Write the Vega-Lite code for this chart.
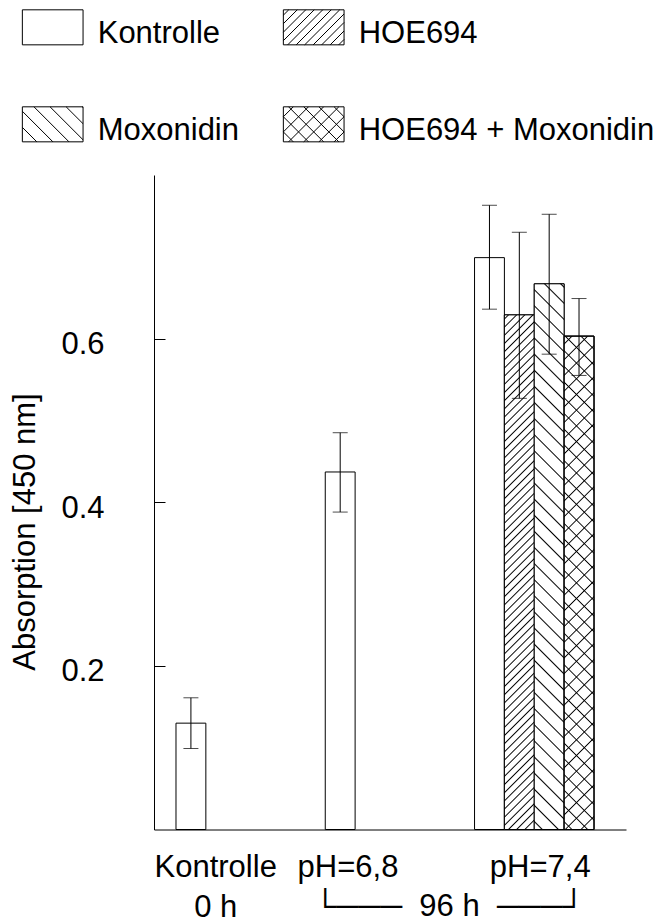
{
  "$schema": "https://vega.github.io/schema/vega-lite/v6.json",
  "width": 472,
  "height": 654.5,
  "autosize": {"type": "none"},
  "padding": {"left": 154, "top": 175, "right": 46, "bottom": 93.5},
  "background": "white",
  "config": {
    "font": "Liberation Sans",
    "view": {"stroke": null},
    "axis": {
      "domainColor": "black",
      "tickColor": "black",
      "labelColor": "black",
      "titleColor": "black",
      "labelFontSize": 31,
      "titleFontSize": 31,
      "titleFontWeight": "normal",
      "grid": false
    }
  },
  "data": {
    "values": [
      {"cond": "Kontrolle 0 h", "treatment": "Kontrolle", "value": 0.130, "lo": 0.099, "hi": 0.161},
      {"cond": "pH=6,8", "treatment": "Kontrolle", "value": 0.437, "lo": 0.388, "hi": 0.485},
      {"cond": "pH=7,4", "treatment": "Kontrolle", "value": 0.699, "lo": 0.636, "hi": 0.763},
      {"cond": "pH=7,4", "treatment": "HOE694", "value": 0.629, "lo": 0.527, "hi": 0.730},
      {"cond": "pH=7,4", "treatment": "Moxonidin", "value": 0.667, "lo": 0.581, "hi": 0.752},
      {"cond": "pH=7,4", "treatment": "HOE694 + Moxonidin", "value": 0.603, "lo": 0.555, "hi": 0.649}
    ]
  },
  "encoding": {
    "x": {
      "field": "cond",
      "type": "nominal",
      "sort": null,
      "scale": {"domain": ["Kontrolle 0 h", "pH=6,8", "pH=7,4"], "paddingInner": 0.2, "paddingOuter": 0.181, "align": 0.407},
      "axis": {
        "title": "\u2514\u2500\u2500\u2500\u00a0\u00a096 h\u00a0\u00a0\u2500\u2500\u2500\u2518",
        "ticks": false,
        "labelAngle": 0,
        "labelPadding": 23,
        "labelLineHeight": 40,
        "labelLimit": 0,
        "labelExpr": "datum.value === 'Kontrolle 0 h' ? ['Kontrolle', '0 h'] : datum.value",
        "labelOffset": {"condition": [{"test": "datum.value === 'Kontrolle 0 h'", "value": -20}, {"test": "datum.value === 'pH=6,8'", "value": -37}], "value": 6},
        "titleX": 295,
        "titleY": 86,
        "titleBaseline": "alphabetic",
        "titleAlign": "center"
      }
    },
    "xOffset": {
      "field": "treatment",
      "type": "nominal",
      "scale": {"domain": ["Kontrolle", "HOE694", "Moxonidin", "HOE694 + Moxonidin"], "paddingInner": 0, "paddingOuter": 0}
    }
  },
  "layer": [
    {
      "mark": {"type": "bar", "fill": "white", "stroke": "black", "strokeWidth": 1},
      "encoding": {
        "y": {
          "field": "value",
          "type": "quantitative",
          "title": "Absorption [450 nm]",
          "scale": {"domain": [0, 0.8], "nice": false},
          "axis": {
            "values": [0.2, 0.4, 0.6],
            "format": ".1f",
            "ticks": false,
            "grid": true,
            "gridColor": "black",
            "gridWidth": 1,
            "gridOpacity": 1,
            "gridDash": [11, 2000],
            "labelPadding": 50,
            "labelOffset": 6,
            "titleX": -120,
            "titleY": 356.5,
            "titleAngle": 270,
            "titleBaseline": "alphabetic",
            "titleAlign": "center"
          }
        }
      }
    },
    {
      "transform": [{"filter": "datum.treatment === 'HOE694'"}],
      "mark": {
        "type": "bar", "stroke": "black", "strokeWidth": 1,
        "fill": {"gradient": "linear", "x1": 0, "y1": 0, "x2": 0.0612, "y2": 1.0546, "stops": [
          {"offset":0.005,"color":"#fff"},{"offset":0.0075,"color":"#000"},{"offset":0.01,"color":"#fff"},
          {"offset":0.02,"color":"#fff"},{"offset":0.0225,"color":"#000"},{"offset":0.025,"color":"#fff"},
          {"offset":0.035,"color":"#fff"},{"offset":0.0375,"color":"#000"},{"offset":0.04,"color":"#fff"},
          {"offset":0.05,"color":"#fff"},{"offset":0.0525,"color":"#000"},{"offset":0.055,"color":"#fff"},
          {"offset":0.065,"color":"#fff"},{"offset":0.0675,"color":"#000"},{"offset":0.07,"color":"#fff"},
          {"offset":0.08,"color":"#fff"},{"offset":0.0825,"color":"#000"},{"offset":0.085,"color":"#fff"},
          {"offset":0.095,"color":"#fff"},{"offset":0.0975,"color":"#000"},{"offset":0.1,"color":"#fff"},
          {"offset":0.11,"color":"#fff"},{"offset":0.1125,"color":"#000"},{"offset":0.115,"color":"#fff"},
          {"offset":0.125,"color":"#fff"},{"offset":0.1275,"color":"#000"},{"offset":0.13,"color":"#fff"},
          {"offset":0.14,"color":"#fff"},{"offset":0.1425,"color":"#000"},{"offset":0.145,"color":"#fff"},
          {"offset":0.155,"color":"#fff"},{"offset":0.1575,"color":"#000"},{"offset":0.16,"color":"#fff"},
          {"offset":0.17,"color":"#fff"},{"offset":0.1725,"color":"#000"},{"offset":0.175,"color":"#fff"},
          {"offset":0.185,"color":"#fff"},{"offset":0.1875,"color":"#000"},{"offset":0.19,"color":"#fff"},
          {"offset":0.2,"color":"#fff"},{"offset":0.2025,"color":"#000"},{"offset":0.205,"color":"#fff"},
          {"offset":0.215,"color":"#fff"},{"offset":0.2175,"color":"#000"},{"offset":0.22,"color":"#fff"},
          {"offset":0.23,"color":"#fff"},{"offset":0.2325,"color":"#000"},{"offset":0.235,"color":"#fff"},
          {"offset":0.245,"color":"#fff"},{"offset":0.2475,"color":"#000"},{"offset":0.25,"color":"#fff"},
          {"offset":0.26,"color":"#fff"},{"offset":0.2625,"color":"#000"},{"offset":0.265,"color":"#fff"},
          {"offset":0.275,"color":"#fff"},{"offset":0.2775,"color":"#000"},{"offset":0.28,"color":"#fff"},
          {"offset":0.29,"color":"#fff"},{"offset":0.2925,"color":"#000"},{"offset":0.295,"color":"#fff"},
          {"offset":0.305,"color":"#fff"},{"offset":0.3075,"color":"#000"},{"offset":0.31,"color":"#fff"},
          {"offset":0.32,"color":"#fff"},{"offset":0.3225,"color":"#000"},{"offset":0.325,"color":"#fff"},
          {"offset":0.335,"color":"#fff"},{"offset":0.3375,"color":"#000"},{"offset":0.34,"color":"#fff"},
          {"offset":0.35,"color":"#fff"},{"offset":0.3525,"color":"#000"},{"offset":0.355,"color":"#fff"},
          {"offset":0.365,"color":"#fff"},{"offset":0.3675,"color":"#000"},{"offset":0.37,"color":"#fff"},
          {"offset":0.38,"color":"#fff"},{"offset":0.3825,"color":"#000"},{"offset":0.385,"color":"#fff"},
          {"offset":0.395,"color":"#fff"},{"offset":0.3975,"color":"#000"},{"offset":0.4,"color":"#fff"},
          {"offset":0.41,"color":"#fff"},{"offset":0.4125,"color":"#000"},{"offset":0.415,"color":"#fff"},
          {"offset":0.425,"color":"#fff"},{"offset":0.4275,"color":"#000"},{"offset":0.43,"color":"#fff"},
          {"offset":0.44,"color":"#fff"},{"offset":0.4425,"color":"#000"},{"offset":0.445,"color":"#fff"},
          {"offset":0.455,"color":"#fff"},{"offset":0.4575,"color":"#000"},{"offset":0.46,"color":"#fff"},
          {"offset":0.47,"color":"#fff"},{"offset":0.4725,"color":"#000"},{"offset":0.475,"color":"#fff"},
          {"offset":0.485,"color":"#fff"},{"offset":0.4875,"color":"#000"},{"offset":0.49,"color":"#fff"},
          {"offset":0.5,"color":"#fff"},{"offset":0.5025,"color":"#000"},{"offset":0.505,"color":"#fff"},
          {"offset":0.515,"color":"#fff"},{"offset":0.5175,"color":"#000"},{"offset":0.52,"color":"#fff"},
          {"offset":0.53,"color":"#fff"},{"offset":0.5325,"color":"#000"},{"offset":0.535,"color":"#fff"},
          {"offset":0.545,"color":"#fff"},{"offset":0.5475,"color":"#000"},{"offset":0.55,"color":"#fff"},
          {"offset":0.56,"color":"#fff"},{"offset":0.5625,"color":"#000"},{"offset":0.565,"color":"#fff"},
          {"offset":0.575,"color":"#fff"},{"offset":0.5775,"color":"#000"},{"offset":0.58,"color":"#fff"},
          {"offset":0.59,"color":"#fff"},{"offset":0.5925,"color":"#000"},{"offset":0.595,"color":"#fff"},
          {"offset":0.605,"color":"#fff"},{"offset":0.6075,"color":"#000"},{"offset":0.61,"color":"#fff"},
          {"offset":0.62,"color":"#fff"},{"offset":0.6225,"color":"#000"},{"offset":0.625,"color":"#fff"},
          {"offset":0.635,"color":"#fff"},{"offset":0.6375,"color":"#000"},{"offset":0.64,"color":"#fff"},
          {"offset":0.65,"color":"#fff"},{"offset":0.6525,"color":"#000"},{"offset":0.655,"color":"#fff"},
          {"offset":0.665,"color":"#fff"},{"offset":0.6675,"color":"#000"},{"offset":0.67,"color":"#fff"},
          {"offset":0.68,"color":"#fff"},{"offset":0.6825,"color":"#000"},{"offset":0.685,"color":"#fff"},
          {"offset":0.695,"color":"#fff"},{"offset":0.6975,"color":"#000"},{"offset":0.7,"color":"#fff"},
          {"offset":0.71,"color":"#fff"},{"offset":0.7125,"color":"#000"},{"offset":0.715,"color":"#fff"},
          {"offset":0.725,"color":"#fff"},{"offset":0.7275,"color":"#000"},{"offset":0.73,"color":"#fff"},
          {"offset":0.74,"color":"#fff"},{"offset":0.7425,"color":"#000"},{"offset":0.745,"color":"#fff"},
          {"offset":0.755,"color":"#fff"},{"offset":0.7575,"color":"#000"},{"offset":0.76,"color":"#fff"},
          {"offset":0.77,"color":"#fff"},{"offset":0.7725,"color":"#000"},{"offset":0.775,"color":"#fff"},
          {"offset":0.785,"color":"#fff"},{"offset":0.7875,"color":"#000"},{"offset":0.79,"color":"#fff"},
          {"offset":0.8,"color":"#fff"},{"offset":0.8025,"color":"#000"},{"offset":0.805,"color":"#fff"},
          {"offset":0.815,"color":"#fff"},{"offset":0.8175,"color":"#000"},{"offset":0.82,"color":"#fff"},
          {"offset":0.83,"color":"#fff"},{"offset":0.8325,"color":"#000"},{"offset":0.835,"color":"#fff"},
          {"offset":0.845,"color":"#fff"},{"offset":0.8475,"color":"#000"},{"offset":0.85,"color":"#fff"},
          {"offset":0.86,"color":"#fff"},{"offset":0.8625,"color":"#000"},{"offset":0.865,"color":"#fff"},
          {"offset":0.875,"color":"#fff"},{"offset":0.8775,"color":"#000"},{"offset":0.88,"color":"#fff"},
          {"offset":0.89,"color":"#fff"},{"offset":0.8925,"color":"#000"},{"offset":0.895,"color":"#fff"},
          {"offset":0.905,"color":"#fff"},{"offset":0.9075,"color":"#000"},{"offset":0.91,"color":"#fff"},
          {"offset":0.92,"color":"#fff"},{"offset":0.9225,"color":"#000"},{"offset":0.925,"color":"#fff"},
          {"offset":0.935,"color":"#fff"},{"offset":0.9375,"color":"#000"},{"offset":0.94,"color":"#fff"},
          {"offset":0.95,"color":"#fff"},{"offset":0.9525,"color":"#000"},{"offset":0.955,"color":"#fff"},
          {"offset":0.965,"color":"#fff"},{"offset":0.9675,"color":"#000"},{"offset":0.97,"color":"#fff"},
          {"offset":0.98,"color":"#fff"},{"offset":0.9825,"color":"#000"},{"offset":0.985,"color":"#fff"}
        ]}
      },
      "encoding": {"y": {"field": "value", "type": "quantitative", "title": "Absorption [450 nm]"}}
    },
    {
      "transform": [{"filter": "datum.treatment === 'Moxonidin'"}],
      "mark": {
        "type": "bar", "stroke": "black", "strokeWidth": 1,
        "fill": {"gradient": "linear", "x1": 0, "y1": 1, "x2": 0.0575, "y2": -0.0516, "stops": [
          {"offset":0.0115,"color":"#fff"},{"offset":0.014,"color":"#000"},{"offset":0.0165,"color":"#fff"},
          {"offset":0.0395,"color":"#fff"},{"offset":0.042,"color":"#000"},{"offset":0.0445,"color":"#fff"},
          {"offset":0.0675,"color":"#fff"},{"offset":0.07,"color":"#000"},{"offset":0.0725,"color":"#fff"},
          {"offset":0.0955,"color":"#fff"},{"offset":0.098,"color":"#000"},{"offset":0.1005,"color":"#fff"},
          {"offset":0.1235,"color":"#fff"},{"offset":0.126,"color":"#000"},{"offset":0.1285,"color":"#fff"},
          {"offset":0.1515,"color":"#fff"},{"offset":0.154,"color":"#000"},{"offset":0.1565,"color":"#fff"},
          {"offset":0.1795,"color":"#fff"},{"offset":0.182,"color":"#000"},{"offset":0.1845,"color":"#fff"},
          {"offset":0.2075,"color":"#fff"},{"offset":0.21,"color":"#000"},{"offset":0.2125,"color":"#fff"},
          {"offset":0.2355,"color":"#fff"},{"offset":0.238,"color":"#000"},{"offset":0.2405,"color":"#fff"},
          {"offset":0.2635,"color":"#fff"},{"offset":0.266,"color":"#000"},{"offset":0.2685,"color":"#fff"},
          {"offset":0.2915,"color":"#fff"},{"offset":0.294,"color":"#000"},{"offset":0.2965,"color":"#fff"},
          {"offset":0.3195,"color":"#fff"},{"offset":0.322,"color":"#000"},{"offset":0.3245,"color":"#fff"},
          {"offset":0.3475,"color":"#fff"},{"offset":0.35,"color":"#000"},{"offset":0.3525,"color":"#fff"},
          {"offset":0.3755,"color":"#fff"},{"offset":0.378,"color":"#000"},{"offset":0.3805,"color":"#fff"},
          {"offset":0.4035,"color":"#fff"},{"offset":0.406,"color":"#000"},{"offset":0.4085,"color":"#fff"},
          {"offset":0.4315,"color":"#fff"},{"offset":0.434,"color":"#000"},{"offset":0.4365,"color":"#fff"},
          {"offset":0.4595,"color":"#fff"},{"offset":0.462,"color":"#000"},{"offset":0.4645,"color":"#fff"},
          {"offset":0.4875,"color":"#fff"},{"offset":0.49,"color":"#000"},{"offset":0.4925,"color":"#fff"},
          {"offset":0.5155,"color":"#fff"},{"offset":0.518,"color":"#000"},{"offset":0.5205,"color":"#fff"},
          {"offset":0.5435,"color":"#fff"},{"offset":0.546,"color":"#000"},{"offset":0.5485,"color":"#fff"},
          {"offset":0.5715,"color":"#fff"},{"offset":0.574,"color":"#000"},{"offset":0.5765,"color":"#fff"},
          {"offset":0.5995,"color":"#fff"},{"offset":0.602,"color":"#000"},{"offset":0.6045,"color":"#fff"},
          {"offset":0.6275,"color":"#fff"},{"offset":0.63,"color":"#000"},{"offset":0.6325,"color":"#fff"},
          {"offset":0.6555,"color":"#fff"},{"offset":0.658,"color":"#000"},{"offset":0.6605,"color":"#fff"},
          {"offset":0.6835,"color":"#fff"},{"offset":0.686,"color":"#000"},{"offset":0.6885,"color":"#fff"},
          {"offset":0.7115,"color":"#fff"},{"offset":0.714,"color":"#000"},{"offset":0.7165,"color":"#fff"},
          {"offset":0.7395,"color":"#fff"},{"offset":0.742,"color":"#000"},{"offset":0.7445,"color":"#fff"},
          {"offset":0.7675,"color":"#fff"},{"offset":0.77,"color":"#000"},{"offset":0.7725,"color":"#fff"},
          {"offset":0.7955,"color":"#fff"},{"offset":0.798,"color":"#000"},{"offset":0.8005,"color":"#fff"},
          {"offset":0.8235,"color":"#fff"},{"offset":0.826,"color":"#000"},{"offset":0.8285,"color":"#fff"},
          {"offset":0.8515,"color":"#fff"},{"offset":0.854,"color":"#000"},{"offset":0.8565,"color":"#fff"},
          {"offset":0.8795,"color":"#fff"},{"offset":0.882,"color":"#000"},{"offset":0.8845,"color":"#fff"},
          {"offset":0.9075,"color":"#fff"},{"offset":0.91,"color":"#000"},{"offset":0.9125,"color":"#fff"},
          {"offset":0.9355,"color":"#fff"},{"offset":0.938,"color":"#000"},{"offset":0.9405,"color":"#fff"},
          {"offset":0.9635,"color":"#fff"},{"offset":0.966,"color":"#000"},{"offset":0.9685,"color":"#fff"},
          {"offset":0.9915,"color":"#fff"},{"offset":0.994,"color":"#000"},{"offset":0.9965,"color":"#fff"}
        ]}
      },
      "encoding": {"y": {"field": "value", "type": "quantitative", "title": "Absorption [450 nm]"}}
    },
    {
      "transform": [{"filter": "datum.treatment === 'HOE694 + Moxonidin'"}],
      "mark": {
        "type": "bar", "stroke": "black", "strokeWidth": 1,
        "fill": {"gradient": "linear", "x1": 0, "y1": 0, "x2": 0.0639, "y2": 1.0568, "stops": [
          {"offset":0.0125,"color":"#fff"},{"offset":0.015,"color":"#000"},{"offset":0.0175,"color":"#fff"},
          {"offset":0.0425,"color":"#fff"},{"offset":0.045,"color":"#000"},{"offset":0.0475,"color":"#fff"},
          {"offset":0.0725,"color":"#fff"},{"offset":0.075,"color":"#000"},{"offset":0.0775,"color":"#fff"},
          {"offset":0.1025,"color":"#fff"},{"offset":0.105,"color":"#000"},{"offset":0.1075,"color":"#fff"},
          {"offset":0.1325,"color":"#fff"},{"offset":0.135,"color":"#000"},{"offset":0.1375,"color":"#fff"},
          {"offset":0.1625,"color":"#fff"},{"offset":0.165,"color":"#000"},{"offset":0.1675,"color":"#fff"},
          {"offset":0.1925,"color":"#fff"},{"offset":0.195,"color":"#000"},{"offset":0.1975,"color":"#fff"},
          {"offset":0.2225,"color":"#fff"},{"offset":0.225,"color":"#000"},{"offset":0.2275,"color":"#fff"},
          {"offset":0.2525,"color":"#fff"},{"offset":0.255,"color":"#000"},{"offset":0.2575,"color":"#fff"},
          {"offset":0.2825,"color":"#fff"},{"offset":0.285,"color":"#000"},{"offset":0.2875,"color":"#fff"},
          {"offset":0.3125,"color":"#fff"},{"offset":0.315,"color":"#000"},{"offset":0.3175,"color":"#fff"},
          {"offset":0.3425,"color":"#fff"},{"offset":0.345,"color":"#000"},{"offset":0.3475,"color":"#fff"},
          {"offset":0.3725,"color":"#fff"},{"offset":0.375,"color":"#000"},{"offset":0.3775,"color":"#fff"},
          {"offset":0.4025,"color":"#fff"},{"offset":0.405,"color":"#000"},{"offset":0.4075,"color":"#fff"},
          {"offset":0.4325,"color":"#fff"},{"offset":0.435,"color":"#000"},{"offset":0.4375,"color":"#fff"},
          {"offset":0.4625,"color":"#fff"},{"offset":0.465,"color":"#000"},{"offset":0.4675,"color":"#fff"},
          {"offset":0.4925,"color":"#fff"},{"offset":0.495,"color":"#000"},{"offset":0.4975,"color":"#fff"},
          {"offset":0.5225,"color":"#fff"},{"offset":0.525,"color":"#000"},{"offset":0.5275,"color":"#fff"},
          {"offset":0.5525,"color":"#fff"},{"offset":0.555,"color":"#000"},{"offset":0.5575,"color":"#fff"},
          {"offset":0.5825,"color":"#fff"},{"offset":0.585,"color":"#000"},{"offset":0.5875,"color":"#fff"},
          {"offset":0.6125,"color":"#fff"},{"offset":0.615,"color":"#000"},{"offset":0.6175,"color":"#fff"},
          {"offset":0.6425,"color":"#fff"},{"offset":0.645,"color":"#000"},{"offset":0.6475,"color":"#fff"},
          {"offset":0.6725,"color":"#fff"},{"offset":0.675,"color":"#000"},{"offset":0.6775,"color":"#fff"},
          {"offset":0.7025,"color":"#fff"},{"offset":0.705,"color":"#000"},{"offset":0.7075,"color":"#fff"},
          {"offset":0.7325,"color":"#fff"},{"offset":0.735,"color":"#000"},{"offset":0.7375,"color":"#fff"},
          {"offset":0.7625,"color":"#fff"},{"offset":0.765,"color":"#000"},{"offset":0.7675,"color":"#fff"},
          {"offset":0.7925,"color":"#fff"},{"offset":0.795,"color":"#000"},{"offset":0.7975,"color":"#fff"},
          {"offset":0.8225,"color":"#fff"},{"offset":0.825,"color":"#000"},{"offset":0.8275,"color":"#fff"},
          {"offset":0.8525,"color":"#fff"},{"offset":0.855,"color":"#000"},{"offset":0.8575,"color":"#fff"},
          {"offset":0.8825,"color":"#fff"},{"offset":0.885,"color":"#000"},{"offset":0.8875,"color":"#fff"},
          {"offset":0.9125,"color":"#fff"},{"offset":0.915,"color":"#000"},{"offset":0.9175,"color":"#fff"},
          {"offset":0.9425,"color":"#fff"},{"offset":0.945,"color":"#000"},{"offset":0.9475,"color":"#fff"},
          {"offset":0.9725,"color":"#fff"},{"offset":0.975,"color":"#000"},{"offset":0.9775,"color":"#fff"}
        ]}
      },
      "encoding": {"y": {"field": "value", "type": "quantitative", "title": "Absorption [450 nm]"}}
    },
    {
      "transform": [{"filter": "datum.treatment === 'HOE694 + Moxonidin'"}],
      "mark": {
        "type": "bar", "stroke": "black", "strokeWidth": 1,
        "fill": {"gradient": "linear", "x1": 0, "y1": 1, "x2": 0.0639, "y2": -0.0568, "stops": [
          {"offset":0.0125,"color":"rgba(0,0,0,0)"},{"offset":0.015,"color":"#000"},{"offset":0.0175,"color":"rgba(0,0,0,0)"},
          {"offset":0.0425,"color":"rgba(0,0,0,0)"},{"offset":0.045,"color":"#000"},{"offset":0.0475,"color":"rgba(0,0,0,0)"},
          {"offset":0.0725,"color":"rgba(0,0,0,0)"},{"offset":0.075,"color":"#000"},{"offset":0.0775,"color":"rgba(0,0,0,0)"},
          {"offset":0.1025,"color":"rgba(0,0,0,0)"},{"offset":0.105,"color":"#000"},{"offset":0.1075,"color":"rgba(0,0,0,0)"},
          {"offset":0.1325,"color":"rgba(0,0,0,0)"},{"offset":0.135,"color":"#000"},{"offset":0.1375,"color":"rgba(0,0,0,0)"},
          {"offset":0.1625,"color":"rgba(0,0,0,0)"},{"offset":0.165,"color":"#000"},{"offset":0.1675,"color":"rgba(0,0,0,0)"},
          {"offset":0.1925,"color":"rgba(0,0,0,0)"},{"offset":0.195,"color":"#000"},{"offset":0.1975,"color":"rgba(0,0,0,0)"},
          {"offset":0.2225,"color":"rgba(0,0,0,0)"},{"offset":0.225,"color":"#000"},{"offset":0.2275,"color":"rgba(0,0,0,0)"},
          {"offset":0.2525,"color":"rgba(0,0,0,0)"},{"offset":0.255,"color":"#000"},{"offset":0.2575,"color":"rgba(0,0,0,0)"},
          {"offset":0.2825,"color":"rgba(0,0,0,0)"},{"offset":0.285,"color":"#000"},{"offset":0.2875,"color":"rgba(0,0,0,0)"},
          {"offset":0.3125,"color":"rgba(0,0,0,0)"},{"offset":0.315,"color":"#000"},{"offset":0.3175,"color":"rgba(0,0,0,0)"},
          {"offset":0.3425,"color":"rgba(0,0,0,0)"},{"offset":0.345,"color":"#000"},{"offset":0.3475,"color":"rgba(0,0,0,0)"},
          {"offset":0.3725,"color":"rgba(0,0,0,0)"},{"offset":0.375,"color":"#000"},{"offset":0.3775,"color":"rgba(0,0,0,0)"},
          {"offset":0.4025,"color":"rgba(0,0,0,0)"},{"offset":0.405,"color":"#000"},{"offset":0.4075,"color":"rgba(0,0,0,0)"},
          {"offset":0.4325,"color":"rgba(0,0,0,0)"},{"offset":0.435,"color":"#000"},{"offset":0.4375,"color":"rgba(0,0,0,0)"},
          {"offset":0.4625,"color":"rgba(0,0,0,0)"},{"offset":0.465,"color":"#000"},{"offset":0.4675,"color":"rgba(0,0,0,0)"},
          {"offset":0.4925,"color":"rgba(0,0,0,0)"},{"offset":0.495,"color":"#000"},{"offset":0.4975,"color":"rgba(0,0,0,0)"},
          {"offset":0.5225,"color":"rgba(0,0,0,0)"},{"offset":0.525,"color":"#000"},{"offset":0.5275,"color":"rgba(0,0,0,0)"},
          {"offset":0.5525,"color":"rgba(0,0,0,0)"},{"offset":0.555,"color":"#000"},{"offset":0.5575,"color":"rgba(0,0,0,0)"},
          {"offset":0.5825,"color":"rgba(0,0,0,0)"},{"offset":0.585,"color":"#000"},{"offset":0.5875,"color":"rgba(0,0,0,0)"},
          {"offset":0.6125,"color":"rgba(0,0,0,0)"},{"offset":0.615,"color":"#000"},{"offset":0.6175,"color":"rgba(0,0,0,0)"},
          {"offset":0.6425,"color":"rgba(0,0,0,0)"},{"offset":0.645,"color":"#000"},{"offset":0.6475,"color":"rgba(0,0,0,0)"},
          {"offset":0.6725,"color":"rgba(0,0,0,0)"},{"offset":0.675,"color":"#000"},{"offset":0.6775,"color":"rgba(0,0,0,0)"},
          {"offset":0.7025,"color":"rgba(0,0,0,0)"},{"offset":0.705,"color":"#000"},{"offset":0.7075,"color":"rgba(0,0,0,0)"},
          {"offset":0.7325,"color":"rgba(0,0,0,0)"},{"offset":0.735,"color":"#000"},{"offset":0.7375,"color":"rgba(0,0,0,0)"},
          {"offset":0.7625,"color":"rgba(0,0,0,0)"},{"offset":0.765,"color":"#000"},{"offset":0.7675,"color":"rgba(0,0,0,0)"},
          {"offset":0.7925,"color":"rgba(0,0,0,0)"},{"offset":0.795,"color":"#000"},{"offset":0.7975,"color":"rgba(0,0,0,0)"},
          {"offset":0.8225,"color":"rgba(0,0,0,0)"},{"offset":0.825,"color":"#000"},{"offset":0.8275,"color":"rgba(0,0,0,0)"},
          {"offset":0.8525,"color":"rgba(0,0,0,0)"},{"offset":0.855,"color":"#000"},{"offset":0.8575,"color":"rgba(0,0,0,0)"},
          {"offset":0.8825,"color":"rgba(0,0,0,0)"},{"offset":0.885,"color":"#000"},{"offset":0.8875,"color":"rgba(0,0,0,0)"},
          {"offset":0.9125,"color":"rgba(0,0,0,0)"},{"offset":0.915,"color":"#000"},{"offset":0.9175,"color":"rgba(0,0,0,0)"},
          {"offset":0.9425,"color":"rgba(0,0,0,0)"},{"offset":0.945,"color":"#000"},{"offset":0.9475,"color":"rgba(0,0,0,0)"},
          {"offset":0.9725,"color":"rgba(0,0,0,0)"},{"offset":0.975,"color":"#000"},{"offset":0.9775,"color":"rgba(0,0,0,0)"}
        ]}
      },
      "encoding": {"y": {"field": "value", "type": "quantitative", "title": "Absorption [450 nm]"}}
    },
    {
      "mark": {"type": "rule", "color": "black", "strokeWidth": 1},
      "encoding": {
        "y": {"field": "lo", "type": "quantitative", "title": "Absorption [450 nm]"},
        "y2": {"field": "hi"}
      }
    },
    {
      "mark": {"type": "tick", "color": "black", "orient": "horizontal", "size": 15, "thickness": 1},
      "encoding": {"y": {"field": "hi", "type": "quantitative", "title": "Absorption [450 nm]"}}
    },
    {
      "mark": {"type": "tick", "color": "black", "orient": "horizontal", "size": 15, "thickness": 1},
      "encoding": {"y": {"field": "lo", "type": "quantitative", "title": "Absorption [450 nm]"}}
    },
    {
      "transform": [{"filter": "false"}],
      "mark": {"type": "point", "filled": false, "color": "black", "fill": "white", "stroke": "black", "strokeWidth": 1, "opacity": 1, "size": 3684},
      "encoding": {
        "y": {"field": "value", "type": "quantitative", "title": "Absorption [450 nm]"},
        "shape": {
          "field": "treatment",
          "type": "nominal",
          "scale": {
            "domain": ["Kontrolle", "HOE694", "Moxonidin", "HOE694 + Moxonidin"],
            "range": [
              "M-1,-0.797L1,-0.797L1,0.357L-1,0.357Z",
              "M-1,-0.797L1,-0.797L1,0.357L-1,0.357ZM-1,-0.62L-0.823,-0.797M-1,-0.34L-0.543,-0.797M-1,-0.06L-0.263,-0.797M-1,0.22L0.017,-0.797M-0.857,0.357L0.297,-0.797M-0.577,0.357L0.577,-0.797M-0.297,0.357L0.857,-0.797M-0.017,0.357L1,-0.66M0.263,0.357L1,-0.38M0.543,0.357L1,-0.1M0.823,0.357L1,0.18",
              "M-1,-0.797L1,-0.797L1,0.357L-1,0.357ZM-1,-0.12L-0.523,0.357M-1,-0.65L0.007,0.357M-0.617,-0.797L0.537,0.357M-0.087,-0.797L1,0.29M0.443,-0.797L1,-0.24M0.973,-0.797L1,-0.77",
              "M-1,-0.797L1,-0.797L1,0.357L-1,0.357ZM-1,-0.47L-0.673,-0.797M-1,0.03L-0.173,-0.797M-0.827,0.357L0.327,-0.797M-0.327,0.357L0.827,-0.797M0.173,0.357L1,-0.47M0.673,0.357L1,0.03M-1,0.03L-0.673,0.357M-1,-0.47L-0.173,0.357M-0.827,-0.797L0.327,0.357M-0.327,-0.797L0.827,0.357M0.173,-0.797L1,0.03M0.673,-0.797L1,-0.47"
            ]
          },
          "legend": {
            "title": null,
            "orient": "none",
            "direction": "horizontal",
            "legendX": -132.3,
            "legendY": -172,
            "columns": 2,
            "columnPadding": 41,
            "rowPadding": 51,
            "padding": 0,
            "symbolSize": 3684,
            "symbolStrokeWidth": 1,
            "symbolOpacity": 1,
            "labelFontSize": 31,
            "labelColor": "black",
            "labelOffset": 14,
            "labelLimit": 0
          }
        }
      }
    }
  ]
}
